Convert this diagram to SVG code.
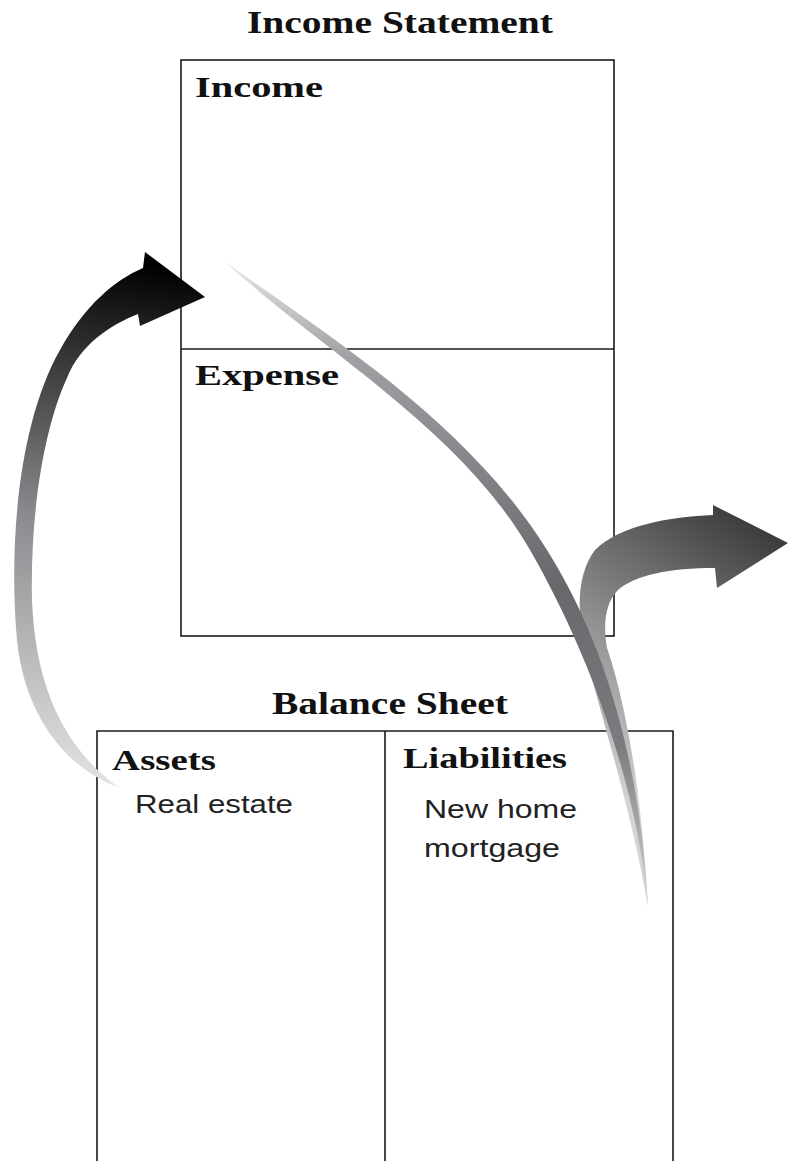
<svg xmlns="http://www.w3.org/2000/svg" width="788" height="1161" viewBox="0 0 788 1161">
<style>
.box{fill:none;stroke:#1a1a1a;stroke-width:1.6}
.title{font-family:"Liberation Serif","Times New Roman",serif;font-weight:bold;font-size:31px;fill:#111}
.head{font-family:"Liberation Serif","Times New Roman",serif;font-weight:bold;font-size:29px;fill:#111}
.item{font-family:"Liberation Sans",Arial,sans-serif;font-size:25px;fill:#222}
</style>
<defs>
<linearGradient id="gLeft" gradientUnits="userSpaceOnUse" x1="118" y1="787" x2="185" y2="270">
<stop offset="0" stop-color="#e2e2e2"/>
<stop offset="0.5" stop-color="#8a8a8e"/>
<stop offset="1" stop-color="#000"/>
</linearGradient>
<linearGradient id="gMid" gradientUnits="userSpaceOnUse" x1="0" y1="262" x2="0" y2="907">
<stop offset="0" stop-color="#e8e8e8"/>
<stop offset="0.15" stop-color="#a0a0a4"/>
<stop offset="0.5" stop-color="#68686c"/>
<stop offset="0.75" stop-color="#7c7c80"/>
<stop offset="1" stop-color="#d4d4d4"/>
</linearGradient>
<linearGradient id="gRight" gradientUnits="userSpaceOnUse" x1="620" y1="800" x2="788" y2="540">
<stop offset="0" stop-color="#d4d4d4"/>
<stop offset="1" stop-color="#3a3a3c"/>
</linearGradient>
</defs>
<rect width="788" height="1161" fill="#fff"/>

<g id="income-statement">
<text class="title" x="247" y="33" textLength="306" lengthAdjust="spacingAndGlyphs">Income Statement</text>
<rect class="box" x="181" y="60" width="433" height="576"/>
<line class="box" x1="181" y1="349" x2="614" y2="349"/>
</g>
<g id="income">
<text class="head" x="195" y="97" textLength="128" lengthAdjust="spacingAndGlyphs">Income</text>
</g>
<g id="expense">
<text class="head" x="195" y="385" textLength="144" lengthAdjust="spacingAndGlyphs">Expense</text>
</g>

<g id="balance-sheet">
<text class="title" x="272" y="714" textLength="236" lengthAdjust="spacingAndGlyphs">Balance Sheet</text>
<path class="box" d="M97 1161 V731 H673 V1161 M385 731 V1161"/>
</g>
<g id="assets">
<text class="head" x="112" y="770" textLength="104" lengthAdjust="spacingAndGlyphs">Assets</text>
<text class="item" x="135" y="813" textLength="158" lengthAdjust="spacingAndGlyphs">Real estate</text>
</g>
<g id="liabilities">
<text class="head" x="403" y="768" textLength="164" lengthAdjust="spacingAndGlyphs">Liabilities</text>
<text class="item" x="424" y="818" textLength="153" lengthAdjust="spacingAndGlyphs">New home</text>
<text class="item" x="424" y="857" textLength="136" lengthAdjust="spacingAndGlyphs">mortgage</text>
</g>

<g id="connectors">
<path fill="url(#gRight)" d="M648 907 C630 800 595 700 583 640 C576 600 580 570 595 550 C620 525 670 517 713 515 L713 505 L788 543 L717 588 L715 568 C670 568 635 575 618 590 C605 603 603 625 607 648 C618 680 640 760 648 907 Z"/>
<path fill="url(#gMid)" d="M225 262 C343 345 471 428 547 550 C613 655 641.5 783 648 907 C637.5 787 590 654 530 550 C460 429 329 356 225 262 Z"/>
<path fill="url(#gLeft)" d="M118 787 C70 770 25 720 17 640 C8 540 20 420 60 350 C85 305 115 280 143 268 L145 252 L205 297 L140 326 L138 314 C110 325 80 345 67 378 C45 425 30 510 32 600 C35 680 60 745 118 787 Z"/>
</g>
</svg>
